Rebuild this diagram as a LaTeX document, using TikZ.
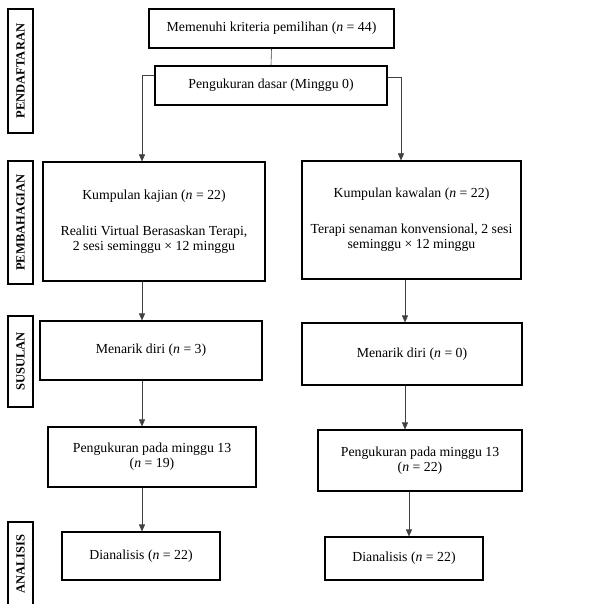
\documentclass[tikz,border=0pt]{standalone}
\usepackage{fontspec}
\setmainfont{Liberation Serif}
\usetikzlibrary{arrows.meta}

\begin{document}
\begin{tikzpicture}[x=1pt,y=-1pt,
    box/.style={draw,line width=1.1pt,inner sep=2pt,align=center,font=\fontsize{13.8}{15}\selectfont},
    stage/.style={draw,line width=1.1pt,rotate=90,inner sep=0pt,minimum height=25pt,font=\bfseries\fontsize{12.5}{14}\selectfont},
    link/.style={draw=black!75,line width=.6pt},
    arr/.style={link,-{Triangle[length=7pt,width=6pt]}}]
  \clip (0,0) rectangle (608,604);
  % stage labels on the left
  \foreach \y/\h/\name/\txt in {71/124/pend/PENDAFTARAN,222.5/123/bahagi/PEMBAHAGIAN,361.5/91/susul/SUSULAN,564/84/anal/ANALISIS}
    \node[stage,minimum width=\h pt] (\name) at (20.5,\y) {\txt};
  % enrolment
  \node[box,minimum width=245pt,minimum height=39pt] (elig) at (271.5,28.5) {Memenuhi kriteria pemilihan (\textit{n} = 44)};
  \node[box,minimum width=232pt,minimum height=39pt] (base) at (271,85.5) {Pengukuran dasar (Minggu 0)};
  % groups
  \node[box,minimum width=222pt,minimum height=119pt] (kajian) at (154,221.5) {Kumpulan kajian (\textit{n} = 22)\\[21pt]Realiti Virtual Berasaskan Terapi,\\2 sesi seminggu × 12 minggu};
  \node[box,minimum width=219pt,minimum height=118pt] (kawalan) at (411.5,220) {Kumpulan kawalan (\textit{n} = 22)\\[21pt]Terapi senaman konvensional, 2 sesi\\seminggu × 12 minggu};
  % follow-up
  \node[box,minimum width=222pt,minimum height=59pt] (tarikL) at (151,350.5) {Menarik diri (\textit{n} = 3)};
  \node[box,minimum width=220pt,minimum height=62pt] (tarikR) at (412,354) {Menarik diri (\textit{n} = 0)};
  \node[box,minimum width=208pt,minimum height=60pt] (ukurL) at (152,457) {Pengukuran pada minggu 13\\(\textit{n} = 19)};
  \node[box,minimum width=204pt,minimum height=61pt] (ukurR) at (420,460.5) {Pengukuran pada minggu 13\\(\textit{n} = 22)};
  % analysis
  \node[box,minimum width=158pt,minimum height=48pt] (analL) at (141,556) {Dianalisis (\textit{n} = 22)};
  \node[box,minimum width=158pt,minimum height=43pt] (analR) at (404,558.5) {Dianalisis (\textit{n} = 22)};
  % connectors
  \coordinate (colL) at (142,0);
  \coordinate (colR) at (405,0);
  \draw[link] (elig.south) -- (base.north);
  \draw[arr] ([yshift=10.5pt]base.west) -| (colL |- kajian.north);
  \draw[arr] ([yshift=8.5pt]base.east) -| ([xshift=-4pt]colR |- kawalan.north);
  \draw[arr] (kajian.south -| colL) -- (tarikL.north -| colL);
  \draw[arr] (kawalan.south -| colR) -- (tarikR.north -| colR);
  \draw[arr] (tarikL.south -| colL) -- (ukurL.north -| colL);
  \draw[arr] (tarikR.south -| colR) -- (ukurR.north -| colR);
  \draw[arr] (ukurL.south -| colL) -- (analL.north -| colL);
  \draw[arr] ([xshift=4pt]ukurR.south -| colR) -- ([xshift=4pt]analR.north -| colR);
\end{tikzpicture}
\end{document}
